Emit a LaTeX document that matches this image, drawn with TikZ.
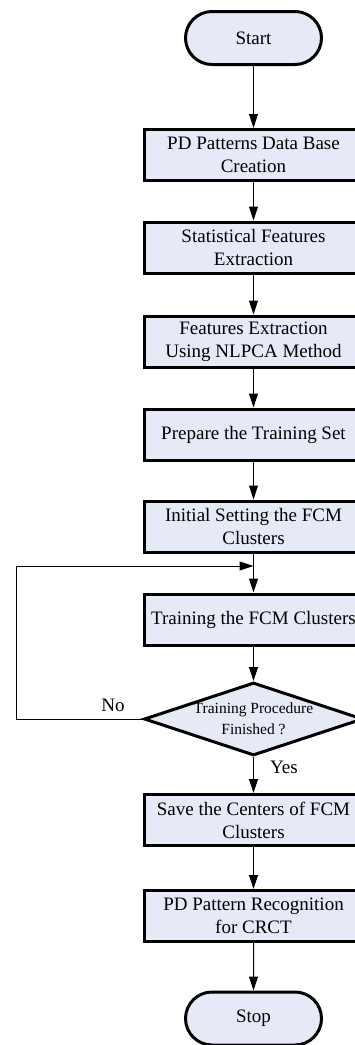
\documentclass[tikz,border=0pt]{standalone}
\usepackage{fontspec}
\setmainfont{Liberation Serif}
\usepackage {tikz}
\usetikzlibrary {positioning}
\usetikzlibrary{shapes.misc}
\usetikzlibrary{shapes.geometric}
\usetikzlibrary{arrows.meta}
\definecolor{boxfill}{RGB}{230,234,246}
\tikzset{
    process/.style = {rectangle,draw,fill=boxfill,line width=3pt,minimum width=219pt,minimum height=51pt,inner sep=0pt,align=center,font=\fontsize{19}{23}\selectfont},
    terminal/.style = {rounded rectangle,draw,fill=boxfill,line width=3pt,minimum width=136pt,minimum height=53pt,inner sep=0pt,font=\fontsize{19}{23}\selectfont},
    decision/.style = {diamond,aspect=3,draw,fill=boxfill,line width=3pt,minimum width=219pt,minimum height=73pt,inner sep=-4pt,align=center,font=\fontsize{15.5}{21}\selectfont},
    flow/.style = {line width=1pt,-{Triangle[length=14pt,width=9pt]}},
    lbl/.style = {font=\fontsize{19}{23}\selectfont}}
\begin{document}
\begin{tikzpicture}[x=1pt,y=-1pt]
        \useasboundingbox (0,0) rectangle (355,1045);
        \clip (0,0) rectangle (355,1045);
        \node[terminal] (start) at (253.5,38) {Start};
        \node[process] (db) at (253.5,155) {PD Patterns Data Base\\Creation};
        \node[process] (stat) at (253.5,247.5) {Statistical Features\\Extraction};
        \node[process] (nlpca) at (253.5,341.5) {Features Extraction\\Using NLPCA Method};
        \node[process] (prep) at (253.5,434.5) {Prepare the Training Set};
        \node[process] (init) at (253.5,526.5) {Initial Setting the FCM\\Clusters};
        \node[process] (train) at (253.5,619.5) {Training the FCM Clusters};
        \node[decision] (check) at (253.5,719) {Training Procedure\\Finished ?};
        \node[process] (save) at (253.5,820) {Save the Centers of FCM\\Clusters};
        \node[process] (recog) at (253.5,916) {PD Pattern Recognition\\for CRCT};
        \node[terminal] (stop) at (253.5,1018.5) {Stop};
        \coordinate (join) at (253.5,566);
        \coordinate (back) at (16,719);
        \node[lbl] (no) at (113,705) {No};
        \node[lbl] (yes) at (284,767) {Yes};
        \draw[flow] (start) -- (db);
        \draw[flow] (db) -- (stat);
        \draw[flow] (stat) -- (nlpca);
        \draw[flow] (nlpca) -- (prep);
        \draw[flow] (prep) -- (init);
        \draw[line width=1pt] (init) -- (join);
        \draw[flow] (join) -- (train);
        \draw[flow] (train) -- (check);
        \draw[flow] (check.west) -- (back) |- (join);
        \draw[flow] (check) -- (save);
        \draw[flow] (save) -- (recog);
        \draw[flow] (recog) -- (stop);
\end{tikzpicture}
\end{document}
